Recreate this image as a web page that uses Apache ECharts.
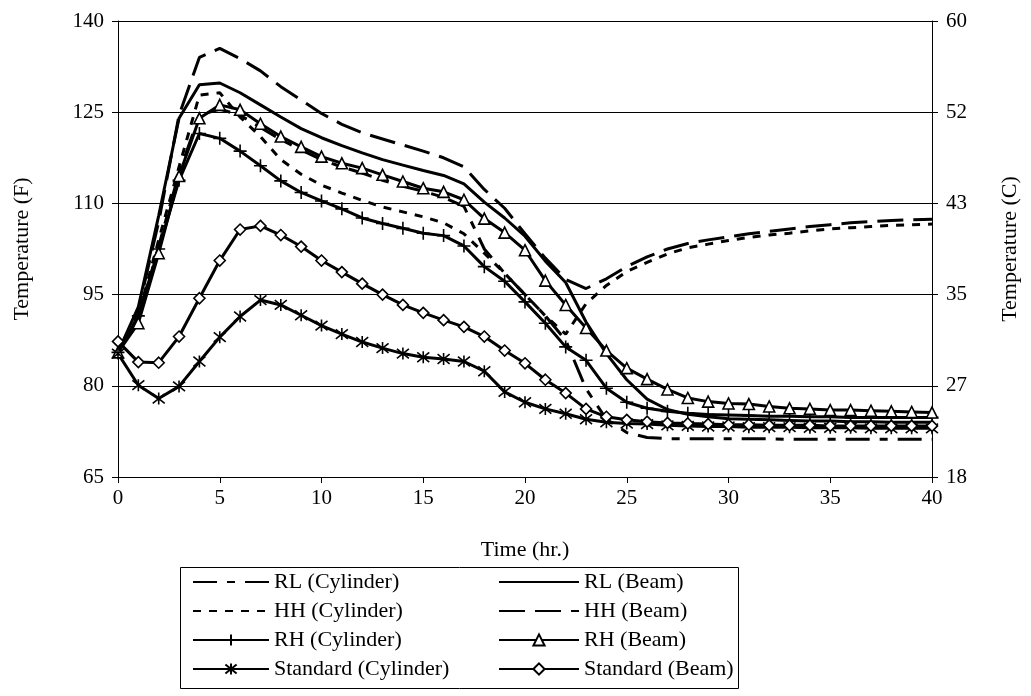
<!DOCTYPE html>
<html>
<head>
<meta charset="utf-8">
<script src="https://cdn.jsdelivr.net/npm/echarts/dist/echarts.min.js"></script>
<style>
html,body{margin:0;padding:0;background:#fff;}
#chart{width:1031px;height:696px;}
</style>
</head>
<body>
<div id="chart"></div>
<script>
const hours = [0,1,2,3,4,5,6,7,8,9,10,11,12,13,14,15,16,17,18,19,20,21,22,23,24,25,26,27,28,29,30,31,32,33,34,35,36,37,38,39,40];

const rlCylinder = [85.5,91,103,115,124.5,125.5,124.5,122.5,120.5,118.8,117.2,116,115,113.8,112.8,112,111,109.5,102.5,98.5,95,91.5,87.5,79.5,74.5,72.3,71.5,71.3,71.3,71.3,71.3,71.3,71.3,71.2,71.2,71.2,71.2,71.2,71.2,71.2,71.2];
const rlBeam = [85.5,93,108,124,129.5,129.8,128.2,126.2,124.2,122.3,120.8,119.5,118.3,117.2,116.3,115.4,114.6,113.2,110.2,107.6,104.6,100.5,97,90.5,85.3,81,77.8,76.1,75.3,74.9,74.6,74.5,74.4,74.3,74.2,74.2,74.1,74.1,74.0,74.0,74.0];
const hhCylinder = [85.5,91.5,104,116,127.8,128.2,124.2,121,117.2,114.8,113,111.7,110.5,109.4,108.6,107.8,106.8,105,101.8,98.5,95,91.5,88.5,93.5,96.5,98.8,100.3,101.7,102.7,103.3,103.9,104.4,104.8,105.1,105.5,105.8,106,106.2,106.4,106.5,106.6];
const hhBeam = [85.5,92.5,107,124.5,134,135.5,133.8,131.8,129.2,127,124.8,123,121.6,120.6,119.6,118.6,117.5,116,112.3,109.2,105,101,97.5,96,97.6,99.6,101.2,102.5,103.4,104,104.5,105,105.4,105.8,106.2,106.5,106.8,107,107.2,107.3,107.4];
const rhCylinder = [85.5,91.5,102.5,113.8,121.5,120.7,118.6,116.2,113.7,111.8,110.4,109.1,107.6,106.7,105.9,105.1,104.7,103,99.6,97.2,93.8,90.3,86.4,84.2,79.6,77.3,76.3,75.8,75.5,75.3,75.2,75.1,75.0,75.0,74.9,74.9,74.8,74.8,74.8,74.8,74.8];
const rhBeam = [85.5,90.3,101.8,114.5,124,126.2,125.4,123.1,121,119.3,117.7,116.6,115.8,114.7,113.6,112.5,111.9,110.6,107.5,105.2,102.3,97.3,93.3,89.5,85.8,82.9,81.1,79.4,78.0,77.4,77.1,77.0,76.6,76.3,76.2,76.0,76.0,75.9,75.8,75.7,75.6];
const stdCylinder = [85.3,80.1,77.9,79.9,84.0,88.0,91.4,94.1,93.3,91.6,89.9,88.5,87.2,86.2,85.3,84.7,84.4,84.0,82.4,79.0,77.3,76.2,75.4,74.5,74.0,73.8,73.7,73.5,73.4,73.3,73.3,73.2,73.2,73.2,73.1,73.1,73.1,73.0,73.0,73.0,73.0];
const stdBeam = [87.3,83.9,83.8,88.1,94.4,100.6,105.7,106.3,104.8,102.9,100.6,98.7,96.8,95.0,93.3,92.0,90.8,89.7,88.1,85.8,83.7,81.0,78.8,76.2,74.9,74.4,74.1,73.9,73.8,73.7,73.6,73.6,73.5,73.5,73.5,73.4,73.4,73.4,73.4,73.4,73.4];

const leftTicks = [65,80,95,110,125,140];
const rightTickLabels = ['18','27','35','43','52','60'];
const xTicks = [0,5,10,15,20,25,30,35,40];

const FONT = '"Liberation Serif","Times New Roman",serif';
const pts = arr => hours.map((h,i)=>[h,arr[i]]);

const crossPath = 'path://M5,0L5,10M0,5L10,5';
const starPath = 'path://M5,0L5,10M1,1L9,9M1,9L9,1';

function mk(name, data, opt){
  const s = {
    name: name, type: 'line', data: pts(data),
    symbol: 'none', showSymbol: true,
    lineStyle: {color:'#000', width: 3, type: 'solid'},
    itemStyle: {color:'#000'},
    emphasis: {disabled:true},
    z: 3
  };
  return Object.assign(s, opt || {});
}

const series = [
  mk('RL (Cylinder)', rlCylinder, {lineStyle:{color:'#000',width:3,type:[24,10,8,10]}}),
  mk('RL (Beam)', rlBeam),
  mk('HH (Cylinder)', hhCylinder, {lineStyle:{color:'#000',width:3,type:[8,8]}}),
  mk('HH (Beam)', hhBeam, {lineStyle:{color:'#000',width:3,type:[26,10]}}),
  mk('RH (Cylinder)', rhCylinder, {symbol: crossPath, symbolSize: 13, itemStyle:{color:'#000', borderColor:'#000', borderWidth:1.6}}),
  mk('RH (Beam)', rhBeam, {symbol: 'triangle', symbolSize: 11, itemStyle:{color:'#fff', borderColor:'#000', borderWidth:1.6}}),
  mk('Standard (Cylinder)', stdCylinder, {symbol: starPath, symbolSize: 12, itemStyle:{color:'#000', borderColor:'#000', borderWidth:1.6}}),
  mk('Standard (Beam)', stdBeam, {symbol: 'diamond', symbolSize: 11, itemStyle:{color:'#fff', borderColor:'#000', borderWidth:1.6}})
];

const noMark = n => ({name: n, itemStyle: {opacity: 0}});

const chart = echarts.init(document.getElementById('chart'), null, {renderer:'canvas'});
const axisFont = {color:'#000', fontFamily: FONT, fontSize: 21};
const legendText = {color:'#000', fontFamily: FONT, fontSize: 22, lineHeight: 22};
chart.setOption({
  animation: false,
  backgroundColor: '#fff',
  grid: {left: 118, right: 99, top: 21, bottom: 219, containLabel: false},
  xAxis: {
    type: 'value', min: 0, max: 40, interval: 5,
    name: 'Time (hr.)', nameLocation: 'middle', nameGap: 62,
    nameTextStyle: {color:'#000', fontFamily: FONT, fontSize: 22},
    axisLine: {show: true, lineStyle: {color:'#000', width: 1}},
    axisTick: {show: true, inside: false, length: 6, lineStyle: {color:'#000'}},
    axisLabel: Object.assign({margin: 11, formatter: v => xTicks.includes(v) ? String(v) : ''}, axisFont),
    splitLine: {show: false}
  },
  yAxis: [{
    type: 'value', min: 65, max: 140, interval: 15, position: 'left',
    name: 'Temperature (F)', nameLocation: 'middle', nameGap: 85, nameRotate: 90,
    nameTextStyle: {color:'#000', fontFamily: FONT, fontSize: 22},
    axisLine: {show: true, lineStyle: {color:'#000', width: 1}},
    axisTick: {show: true, inside: false, length: 6, lineStyle: {color:'#000'}},
    axisLabel: Object.assign({margin: 14, formatter: v => leftTicks.includes(v) ? String(v) : ''}, axisFont),
    splitLine: {show: true, lineStyle: {color:'#000', width: 1}}
  },{
    type: 'value', min: 65, max: 140, interval: 15, position: 'right',
    name: 'Temperature (C)', nameLocation: 'middle', nameGap: 67, nameRotate: 90,
    nameTextStyle: {color:'#000', fontFamily: FONT, fontSize: 22},
    axisLine: {show: true, lineStyle: {color:'#000', width: 1}},
    axisTick: {show: true, inside: false, length: 6, lineStyle: {color:'#000'}},
    axisLabel: Object.assign({margin: 14, formatter: v => {
      const i = leftTicks.indexOf(v); return i >= 0 ? rightTickLabels[i] : '';
    }}, axisFont),
    splitLine: {show: false}
  }],
  legend: [{
    orient: 'vertical', left: 187, top: 566,
    itemWidth: 76, itemHeight: 14, itemGap: 7,
    data: [noMark('RL (Cylinder)'), noMark('HH (Cylinder)'), 'RH (Cylinder)', 'Standard (Cylinder)'],
    textStyle: legendText,
    selectedMode: false
  },{
    orient: 'vertical', left: 493, top: 566,
    itemWidth: 80, itemHeight: 14, itemGap: 7,
    data: [noMark('RL (Beam)'), noMark('HH (Beam)'), 'RH (Beam)', 'Standard (Beam)'],
    textStyle: legendText,
    selectedMode: false
  }],
  graphic: [{
    type: 'rect', silent: true, z: 0,
    shape: {x: 180.5, y: 567.5, width: 558, height: 121},
    style: {fill: 'none', stroke: '#000', lineWidth: 1}
  }],
  series: series
});
</script>
</body>
</html>
